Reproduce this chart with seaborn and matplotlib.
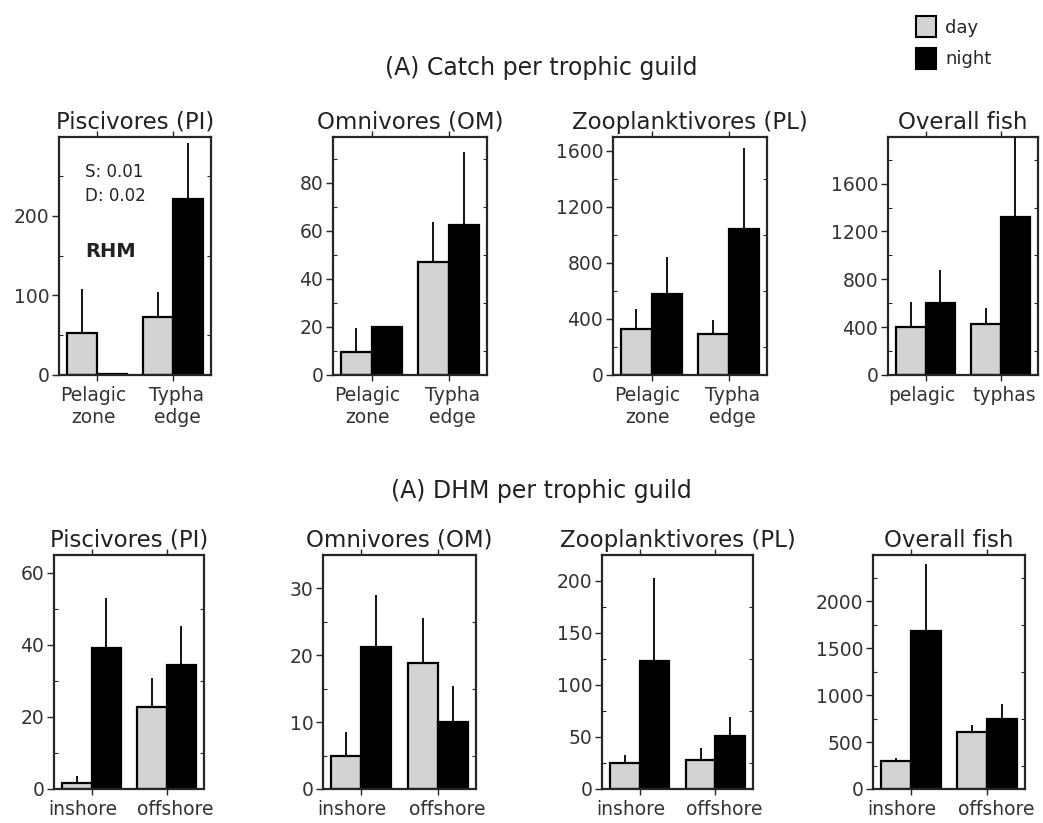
import numpy as np
import pandas as pd
import matplotlib
matplotlib.use("Agg")
import matplotlib.pyplot as plt
import matplotlib.transforms as mtransforms
import seaborn as sns
from matplotlib.ticker import MultipleLocator
from matplotlib.patches import Patch

# ---- data ----
conditions = ["day", "night"]
zone_sites = ["Pelagic\nzone", "Typha\nedge"]
overall_sites = ["pelagic", "typhas"]
shore_sites = ["inshore", "offshore"]

guilds = ["Piscivores (PI)", "Omnivores (OM)", "Zooplanktivores (PL)", "Overall fish"]

# (A) catch per trophic guild (RHM)
catch_day = [[53, 73], [9.5, 47], [332, 296], [402, 430]]
catch_night = [[1, 221], [19.8, 62.5], [581, 1043], [602, 1323]]
catch_day_err = [[55, 31], [10.2, 16.6], [142, 100], [208, 133]]
catch_night_err = [[0, 70], [0, 30.3], [265, 581], [272, 800]]

# (A) DHM per trophic guild
dhm_day = [[1.6, 22.8], [5.0, 18.9], [24.8, 28], [301, 609]]
dhm_night = [[39.3, 34.5], [21.3, 10.0], [122.6, 51], [1681, 743]]
dhm_day_err = [[2, 8], [3.5, 6.7], [8, 11], [25, 71]]
dhm_night_err = [[13.8, 10.7], [7.7, 5.4], [80.4, 18], [708, 160]]

catch_ylim = [299, 99, 1700, 1990]
catch_major = [100, 20, 400, 400]
catch_minor = [50, 10, 200, 200]
dhm_ylim = [65, 35, 225, 2490]
dhm_major = [20, 10, 50, 500]
dhm_minor = [10, 5, 25, 250]

palette = {"day": "#d3d3d3", "night": "#000000"}

sns.set_style("ticks")
plt.rcParams["font.family"] = ["DejaVu Sans"]

fig = plt.figure(figsize=(10.43, 8.23), dpi=100)
W, H = 1043, 823

top_boxes = [(59, 152), (333, 154), (613, 154), (888, 150)]
bot_boxes = [(54, 150), (323, 153), (602, 151), (873, 152)]


def draw_panel(box, row_top, row_bot, title, sites, day, night, day_err, night_err,
               ylim, major, minor, spread):
    left, width = box
    ax = fig.add_axes([left / W, (H - row_bot) / H, width / W, (row_bot - row_top) / H])
    df = pd.DataFrame({
        "site": sites * 2,
        "time": ["day"] * 2 + ["night"] * 2,
        "value": list(day) + list(night),
    })
    sns.barplot(data=df, x="site", y="value", hue="time", order=sites,
                hue_order=conditions, palette=palette, saturation=1,
                edgecolor="black", linewidth=1.6, width=0.78, errorbar=None, ax=ax)
    # upper error bars only, placed on the bars seaborn drew
    for cont, errs in zip(ax.containers, [day_err, night_err]):
        for bar, e in zip(cont, errs):
            if e > 0:
                x = bar.get_x() + bar.get_width() / 2
                y = bar.get_height()
                ax.vlines(x, y, y + e, color="black", linewidth=1.3, zorder=3)
    if ax.get_legend() is not None:
        ax.get_legend().remove()
    ax.set_xlim(-0.5, 1.5)
    ax.set_ylim(0, ylim)
    ax.yaxis.set_major_locator(MultipleLocator(major))
    ax.yaxis.set_minor_locator(MultipleLocator(minor))
    ax.set_xlabel("")
    ax.set_ylabel("")
    ax.set_title(title, fontsize=16.5, color="#222222", pad=6)
    for s in ax.spines.values():
        s.set_visible(True)
        s.set_linewidth(1.6)
    ax.tick_params(axis="x", top=True, direction="out", length=4, width=1,
                   labelsize=13.5, labelcolor="#333333", pad=4)
    ax.tick_params(axis="y", which="major", direction="out", length=5, width=1,
                   labelsize=13.5, labelcolor="#333333", right=False, pad=2)
    ax.tick_params(axis="y", which="minor", direction="in", length=3, width=0.8,
                   right=True, left=True)
    # push the two category labels slightly apart, as in the original
    for lab, dx in zip(ax.get_xticklabels(), [-spread, spread]):
        lab.set_transform(lab.get_transform() +
                          mtransforms.ScaledTranslation(dx / 100, 0, fig.dpi_scale_trans))
    return ax


axes_top = []
for i in range(4):
    sites = overall_sites if i == 3 else zone_sites
    axes_top.append(draw_panel(top_boxes[i], 137, 375, guilds[i], sites,
                               catch_day[i], catch_night[i],
                               catch_day_err[i], catch_night_err[i],
                               catch_ylim[i], catch_major[i], catch_minor[i], 4))

for i in range(4):
    draw_panel(bot_boxes[i], 555, 789, guilds[i], shore_sites,
               dhm_day[i], dhm_night[i], dhm_day_err[i], dhm_night_err[i],
               dhm_ylim[i], dhm_major[i], dhm_minor[i], 9)

ax0 = axes_top[0]
ax0.text(0.17, 0.89, "S: 0.01\nD: 0.02", transform=ax0.transAxes, fontsize=12,
         color="#222222", va="top", ha="left", linespacing=1.45)
ax0.text(0.17, 0.52, "RHM", transform=ax0.transAxes, fontsize=14,
         fontweight="bold", color="#222222", va="center", ha="left")

fig.text(541 / W, 1 - 68 / H, "(A) Catch per trophic guild", ha="center",
         va="center", fontsize=17, color="#222222")
fig.text(541 / W, 1 - 491 / H, "(A) DHM per trophic guild", ha="center",
         va="center", fontsize=17, color="#222222")

handles = [Patch(facecolor=palette[c], edgecolor="black", linewidth=1.5) for c in conditions]
fig.legend(handles, conditions, loc="upper left", bbox_to_anchor=(900 / W, 1 - 0 / H),
           frameon=False, fontsize=13, handlelength=1.1, handleheight=1.4,
           handletextpad=0.5, labelspacing=0.6)

fig.savefig("out.png", dpi=100)
